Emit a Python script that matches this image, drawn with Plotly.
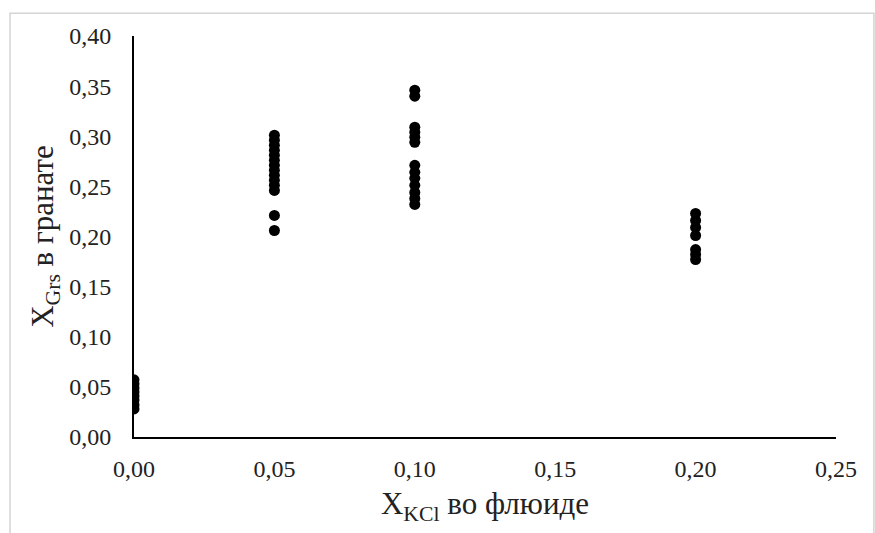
import plotly.graph_objects as go

x_kcl_0 = [0.0] * 8
y_grs_0 = [0.057, 0.053, 0.049, 0.045, 0.041, 0.037, 0.032, 0.028]
x_kcl_05 = [0.05] * 14
y_grs_05 = [0.301, 0.296, 0.291, 0.286, 0.281, 0.276, 0.271, 0.266, 0.261, 0.256, 0.251, 0.246, 0.221, 0.206]
x_kcl_10 = [0.10] * 13
y_grs_10 = [0.346, 0.340, 0.309, 0.304, 0.299, 0.294, 0.271, 0.264, 0.258, 0.251, 0.244, 0.238, 0.232]
x_kcl_20 = [0.20] * 7
y_grs_20 = [0.223, 0.216, 0.209, 0.201, 0.187, 0.182, 0.177]

xs = x_kcl_0 + x_kcl_05 + x_kcl_10 + x_kcl_20
ys = y_grs_0 + y_grs_05 + y_grs_10 + y_grs_20

x_ticks = [0.0, 0.05, 0.10, 0.15, 0.20, 0.25]
x_tick_labels = ["0,00", "0,05", "0,10", "0,15", "0,20", "0,25"]
y_ticks = [0.0, 0.05, 0.10, 0.15, 0.20, 0.25, 0.30, 0.35, 0.40]
y_tick_labels = ["0,00", "0,05", "0,10", "0,15", "0,20", "0,25", "0,30", "0,35", "0,40"]

fig = go.Figure()
fig.add_trace(go.Scatter(
    x=xs, y=ys, mode="markers",
    marker=dict(color="black", size=11, symbol="circle"),
    showlegend=False,
))

font = "Liberation Serif, Times New Roman, serif"
tickfont = dict(family=font, size=24, color="#222")
titlefont = dict(family=font, size=31, color="#222")
fig.update_layout(
    width=875, height=533,
    margin=dict(l=134, r=39, t=36, b=96),
    paper_bgcolor="white", plot_bgcolor="white",
    font=dict(family=font, color="#222", size=24),
    xaxis=dict(
        range=[0, 0.25], tickvals=x_ticks, ticktext=x_tick_labels, tickfont=tickfont,
        showgrid=False, zeroline=False, showline=True, linecolor="black", linewidth=2,
        ticks="", ticklabelstandoff=9,
        title=dict(text="X<sub>KCl</sub> во флюиде", font=titlefont, standoff=12),
    ),
    yaxis=dict(
        range=[0, 0.40], tickvals=y_ticks, ticktext=y_tick_labels, tickfont=tickfont,
        showgrid=False, zeroline=False, showline=True, linecolor="black", linewidth=2,
        ticks="", ticklabelstandoff=16,
        title=dict(text="X<sub>Grs</sub> в гранате", font=titlefont, standoff=6),
    ),
    shapes=[dict(
        type="rect", xref="paper", yref="paper",
        x0=-0.1766, x1=1.054, y0=-0.3, y1=1.057,
        line=dict(color="#d4d4d4", width=1.5), layer="below",
    )],
)

fig.write_html("out.html")
